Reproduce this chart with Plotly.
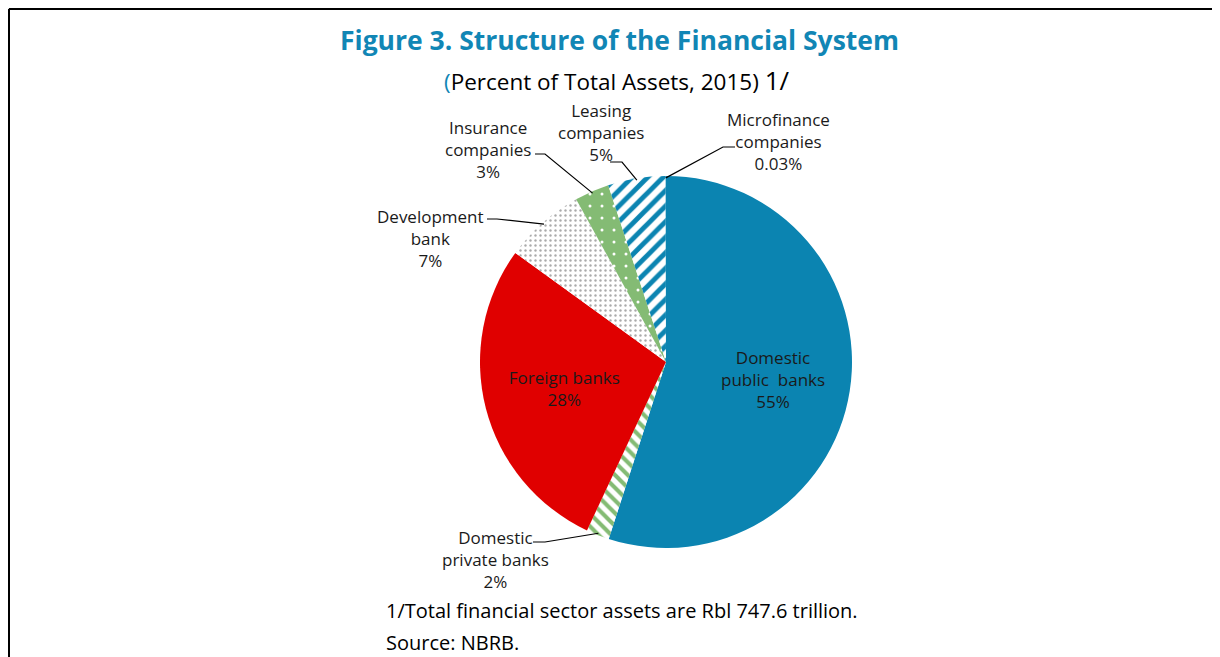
import math
import plotly.graph_objects as go

# page is 1220x657; the html body adds an 8px margin, so the figure is 8px smaller
OFF = 8
W, H = 1220 - OFF, 657 - OFF

# data, clockwise from 12 o'clock
labels = ["Domestic public banks", "Domestic private banks", "Foreign banks",
          "Development bank", "Insurance companies", "Leasing companies",
          "Microfinance companies"]
label_text = ["Domestic<br>public  banks", "Domestic<br>private banks", "Foreign banks",
              "Development<br>bank", "Insurance<br>companies", "Leasing<br>companies",
              "Microfinance<br>companies"]
shares = [55, 2, 28, 7, 3, 5, 0.03]
share_text = ["55%", "2%", "28%", "7%", "3%", "5%", "0.03%"]

BLUE = "#0B84B1"
RED = "#E00000"
GREEN = "#84BB74"
FONT = "Open Sans"

colors = [BLUE, "white", RED, "white", GREEN, "white", BLUE]
pat_shape = ["", "\\", "", ".", ".", "/", ""]
pat_fg = [BLUE, GREEN, RED, "#ABABAB", "white", BLUE, BLUE]
pat_bg = [BLUE, "white", RED, "white", GREEN, "white", BLUE]
pat_size = [8, 9, 8, 5, 12, 11, 8]
pat_solid = [0.3, 0.45, 0.3, 0.18, 0.05, 0.45, 0.3]


def px(x, y):
    # page pixel -> paper coords
    return (x - OFF) / W, 1 - (y - OFF) / H


# pie geometry in page pixels
cx, cy, r = 666, 362, 186
x0d, y1d = px(cx - r, cy - r)
x1d, y0d = px(cx + r, cy + r)

inside = [False, False, True, False, False, False, False]
txt = [f"{label_text[i]}<br>{share_text[i]}" if inside[i] else "" for i in range(len(shares))]

fig = go.Figure(go.Pie(
    labels=labels, values=shares, sort=False, direction="clockwise", rotation=0,
    text=txt, textinfo="text", textposition=["inside" if v else "none" for v in inside],
    insidetextorientation="horizontal",
    textfont=dict(family=FONT, size=17, color="#1a1a1a"),
    marker=dict(colors=colors, line=dict(width=0),
                pattern=dict(shape=pat_shape, fgcolor=pat_fg, bgcolor=pat_bg,
                             size=pat_size, solidity=pat_solid, fillmode="replace")),
    domain=dict(x=[x0d, x1d], y=[y0d, y1d]), showlegend=False, hoverinfo="label+percent",
))

# outside labels: text centre, elbow start/end x, elbow y (page px)
outside = {
    1: dict(tx=495, ty=559, hx0=533, hx1=545, hy=542),
    3: dict(tx=430, ty=238, hx0=487, hx1=497, hy=219),
    4: dict(tx=488, ty=149, hx0=535, hx1=545, hy=154),
    5: dict(tx=601, ty=133, hx0=610, hx1=622, hy=162),
    6: dict(tx=778, ty=142, hx0=735, hx1=723, hy=147),
}

total = sum(shares)
cum = 0
mids = []
for v in shares:
    mids.append((cum + v / 2) / total * 360)
    cum += v

shapes = []
annotations = []
for i, o in outside.items():
    ang = math.radians(mids[i])
    ex = cx + r * 0.99 * math.sin(ang)
    ey = cy - r * 0.99 * math.cos(ang)
    a0, b0 = px(o["hx0"], o["hy"])
    a1, b1 = px(o["hx1"], o["hy"])
    a2, b2 = px(ex, ey)
    shapes.append(dict(type="path", xref="paper", yref="paper",
                       path=f"M {a0} {b0} L {a1} {b1} L {a2} {b2}",
                       line=dict(color="black", width=1.2)))
    ax, ay = px(o["tx"], o["ty"])
    annotations.append(dict(x=ax, y=ay, xref="paper", yref="paper", showarrow=False,
                            text=f"{label_text[i]}<br>{share_text[i]}",
                            font=dict(family=FONT, size=17, color="#1a1a1a"),
                            xanchor="center", yanchor="middle", align="center"))

# label of the big public-bank slice, placed like the original
pbx, pby = px(773, 380)
annotations.append(dict(x=pbx, y=pby, xref="paper", yref="paper", showarrow=False,
                        text=f"{label_text[0]}<br>{share_text[0]}",
                        font=dict(family=FONT, size=17, color="#1a1a1a"),
                        xanchor="center", yanchor="middle", align="center"))

# frame lines (top and left only)
fx, fy = 0.9 / W, 1 - 0.9 / H
shapes.append(dict(type="line", xref="paper", yref="paper", x0=fx, x1=1, y0=fy, y1=fy,
                   line=dict(color="black", width=2.2)))
shapes.append(dict(type="line", xref="paper", yref="paper", x0=fx, x1=fx, y0=0, y1=fy,
                   line=dict(color="black", width=2.2)))

tx, ty = px(619, 40)
annotations.append(dict(x=tx, y=ty, xref="paper", yref="paper", showarrow=False,
                        text="<b>Figure 3. Structure of the Financial System</b>",
                        font=dict(family=FONT, size=26.5, color="#1186B5"),
                        xanchor="center", yanchor="middle"))
sx, sy = px(617, 80)
annotations.append(dict(x=sx, y=sy, xref="paper", yref="paper", showarrow=False,
                        text="<span style='color:#1186B5'>(</span>Percent of Total Assets, 2015) "
                             "<span style='font-size:26px'>1/</span>",
                        font=dict(family=FONT, size=22.5, color="black"),
                        xanchor="center", yanchor="middle"))
f1x, f1y = px(384, 610)
annotations.append(dict(x=f1x, y=f1y, xref="paper", yref="paper", showarrow=False,
                        text="1/Total financial sector assets are Rbl 747.6 trillion.",
                        font=dict(family=FONT, size=20, color="black"),
                        xanchor="left", yanchor="middle"))
f2x, f2y = px(384, 642)
annotations.append(dict(x=f2x, y=f2y, xref="paper", yref="paper", showarrow=False,
                        text="Source: NBRB.",
                        font=dict(family=FONT, size=20, color="black"),
                        xanchor="left", yanchor="middle"))

fig.update_layout(width=W, height=H, margin=dict(l=0, r=0, t=0, b=0),
                  paper_bgcolor="white", plot_bgcolor="white",
                  shapes=shapes, annotations=annotations)

fig.write_html("out.html")
